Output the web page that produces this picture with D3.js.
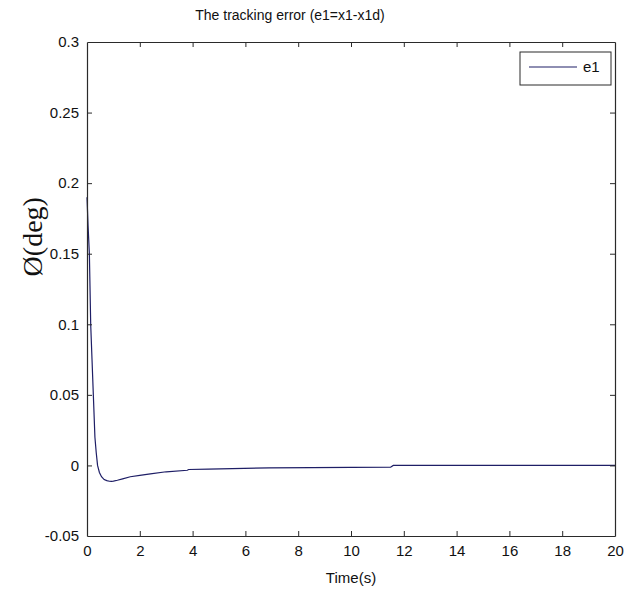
<!DOCTYPE html>
<html>
<head>
<meta charset="utf-8">
<script src="https://cdn.jsdelivr.net/npm/d3@7"></script>
<style>
  html, body { margin: 0; padding: 0; background: #fff; }
  svg { display: block; }
</style>
</head>
<body>
<script>
const time = [0, 0.04, 0.09, 0.14, 0.19, 0.24, 0.3, 0.35, 0.4, 0.47, 0.55, 0.65, 0.75, 0.85, 0.92, 1.0, 1.15, 1.35, 1.64, 2.0, 2.4, 3.0, 3.8, 3.85, 4.6, 5.5, 6.9, 8.5, 10, 11.5, 11.6, 14, 17, 20];
const e1 = [0.19, 0.17, 0.15, 0.10, 0.075, 0.05, 0.02, 0.009, 0.0, -0.005, -0.008, -0.0100, -0.0108, -0.0112, -0.0113, -0.0111, -0.0105, -0.0095, -0.008, -0.007, -0.006, -0.0045, -0.0034, -0.0029, -0.0026, -0.0022, -0.0018, -0.0016, -0.0014, -0.0013, 0, 0, 0, 0];
const xTicks = [0, 2, 4, 6, 8, 10, 12, 14, 16, 18, 20];
const yTicks = [-0.05, 0, 0.05, 0.1, 0.15, 0.2, 0.25, 0.3];
const yTickLabels = ["-0.05", "0", "0.05", "0.1", "0.15", "0.2", "0.25", "0.3"];
const titleText = "The tracking error (e1=x1-x1d)";
const xLabel = "Time(s)";
const yLabel = "Ø(deg)";
const seriesName = "e1";

const W = 624, H = 592;
const m = { left: 87, right: 9, top: 42, bottom: 56 };
const svg = d3.select("body").append("svg").attr("width", W).attr("height", H);
const x = d3.scaleLinear().domain([0, 20]).range([m.left, W - m.right]);
const y = d3.scaleLinear().domain([-0.05, 0.3]).range([H - m.bottom, m.top]);
const font = "'Liberation Sans', Arial, sans-serif";
const axisColor = "#2a2a2a";
const lineColor = "#1e1e66";

// curve
const pts = time.map((t, i) => [t, e1[i]]);
svg.append("path")
  .datum(pts)
  .attr("fill", "none")
  .attr("stroke", lineColor)
  .attr("stroke-width", 1.2)
  .attr("d", d3.line().x(d => x(d[0])).y(d => y(d[1])));

// axes (MATLAB-style box with inward ticks)
const tl = 5;
const gBottom = svg.append("g").attr("transform", `translate(0,${H - m.bottom})`)
  .call(d3.axisBottom(x).tickValues(xTicks).tickSizeInner(-tl).tickSizeOuter(0).tickPadding(9));
const gTop = svg.append("g").attr("transform", `translate(0,${m.top})`)
  .call(d3.axisTop(x).tickValues(xTicks).tickSizeInner(-tl).tickSizeOuter(0).tickFormat(""));
const gLeft = svg.append("g").attr("transform", `translate(${m.left},0)`)
  .call(d3.axisLeft(y).tickValues(yTicks).tickSizeInner(-tl).tickSizeOuter(0).tickPadding(8)
    .tickFormat((d, i) => yTickLabels[i]));
const gRight = svg.append("g").attr("transform", `translate(${W - m.right},0)`)
  .call(d3.axisRight(y).tickValues(yTicks).tickSizeInner(-tl).tickSizeOuter(0).tickFormat(""));

[gBottom, gTop, gLeft, gRight].forEach(g => {
  g.selectAll(".domain").attr("stroke", axisColor).attr("stroke-width", 1.2);
  g.selectAll(".tick line").attr("stroke", axisColor);
  g.selectAll("text").attr("font-family", font).attr("font-size", 15).attr("fill", "#111");
});
gBottom.selectAll(".tick line").filter(d => d === 0 || d === 20).remove();
gTop.selectAll(".tick line").filter(d => d === 0 || d === 20).remove();
gLeft.selectAll(".tick line").filter(d => d === -0.05 || d === 0.3).remove();
gRight.selectAll(".tick line").filter(d => d === -0.05 || d === 0.3).remove();

// title
svg.append("text").attr("x", 290).attr("y", 20).attr("text-anchor", "middle")
  .attr("font-family", font).attr("font-size", 14).attr("fill", "#111").text(titleText);
// x label
svg.append("text").attr("x", x(10)).attr("y", 583).attr("text-anchor", "middle")
  .attr("font-family", font).attr("font-size", 15).attr("fill", "#111").text(xLabel);
// y label
svg.append("text").attr("transform", `translate(42,${y(0.162)}) rotate(-90)`)
  .attr("text-anchor", "middle")
  .attr("font-family", "'Liberation Serif', 'DejaVu Serif', serif").attr("font-size", 28).attr("fill", "#111")
  .text(yLabel);

// legend
const lg = svg.append("g");
lg.append("rect").attr("x", 520).attr("y", 52).attr("width", 91).attr("height", 33)
  .attr("fill", "#fff").attr("stroke", axisColor).attr("stroke-width", 1);
lg.append("line").attr("x1", 529).attr("x2", 577).attr("y1", 67).attr("y2", 67)
  .attr("stroke", lineColor).attr("stroke-width", 1.2);
lg.append("text").attr("x", 583).attr("y", 72).attr("font-family", font).attr("font-size", 15)
  .attr("fill", "#111").text(seriesName);
</script>
</body>
</html>
